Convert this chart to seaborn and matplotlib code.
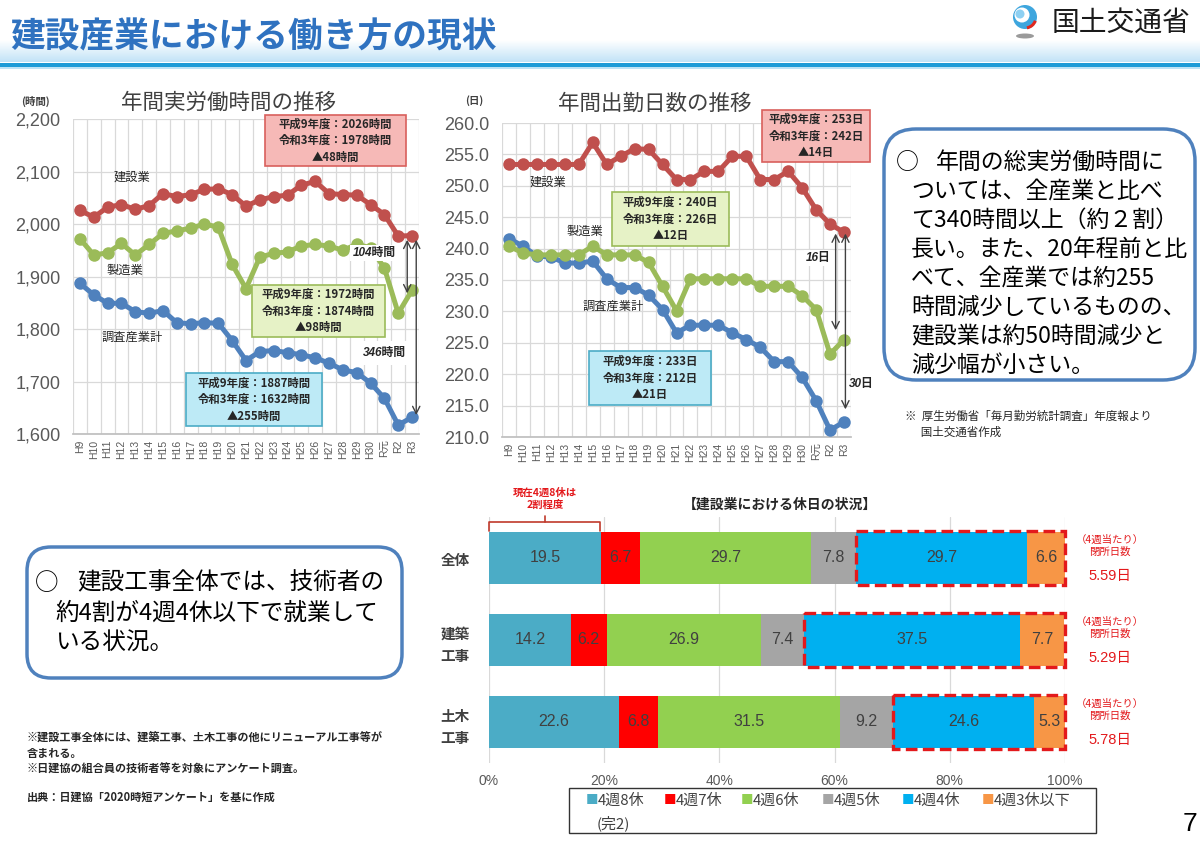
import numpy as np
import pandas as pd
import matplotlib
matplotlib.use("Agg")
import matplotlib.pyplot as plt
import seaborn as sns
from matplotlib.patches import Rectangle, FancyBboxPatch, Circle, Ellipse, Arc
from matplotlib.ticker import FixedLocator

# ---------------- data ----------------
years = ["H9", "H10", "H11", "H12", "H13", "H14", "H15", "H16", "H17", "H18", "H19", "H20",
         "H21", "H22", "H23", "H24", "H25", "H26", "H27", "H28", "H29", "H30", "R元", "R2", "R3"]

hours_construction = [2026, 2013, 2032, 2037, 2028, 2035, 2058, 2052, 2056, 2066, 2067, 2056, 2034,
                      2046, 2052, 2055, 2074, 2081, 2058, 2056, 2055, 2037, 2018, 1977, 1978]
hours_manufacturing = [1972, 1941, 1945, 1963, 1941, 1961, 1982, 1987, 1992, 2000, 1994, 1923, 1877,
                       1937, 1944, 1947, 1958, 1961, 1958, 1950, 1961, 1955, 1916, 1830, 1874]
hours_all = [1887, 1865, 1849, 1849, 1833, 1830, 1835, 1812, 1810, 1812, 1811, 1778, 1740,
             1757, 1759, 1755, 1751, 1745, 1735, 1722, 1717, 1697, 1668, 1617, 1632]

days_construction = [253.4, 253.4, 253.4, 253.4, 253.4, 253.4, 256.9, 253.4, 254.7, 255.9, 255.8, 253.4, 251.0,
                     251.0, 252.3, 252.3, 254.7, 254.7, 251.0, 251.0, 252.3, 249.7, 246.2, 243.9, 242.6]
days_manufacturing = [240.4, 239.3, 239.0, 239.0, 239.0, 239.0, 240.4, 239.0, 239.0, 239.0, 237.8, 234.0, 230.1,
                      235.2, 235.2, 235.2, 235.2, 235.2, 234.0, 234.0, 234.0, 232.5, 230.3, 223.2, 225.5]
days_all = [241.6, 240.4, 238.8, 238.7, 237.7, 237.7, 238.0, 235.2, 233.8, 233.8, 232.6, 230.3, 226.6,
            227.8, 227.8, 227.8, 226.6, 225.5, 224.3, 222.0, 222.0, 219.5, 215.8, 211.1, 212.4]

rows = ["全体", "建築\n工事", "土木\n工事"]
holiday_cats = ["4週8休", "4週7休", "4週6休", "4週5休", "4週4休", "4週3休以下"]
share_8 = [19.5, 14.2, 22.6]
share_7 = [6.7, 6.2, 6.8]
share_6 = [29.7, 26.9, 31.5]
share_5 = [7.8, 7.4, 9.2]
share_4 = [29.7, 37.5, 24.6]
share_3 = [6.6, 7.7, 5.3]
closing_days = ["5.59日", "5.29日", "5.78日"]
pct_ticks = [0, 20, 40, 60, 80, 100]

# ---------------- style ----------------
sns.set_theme(style="white")
JP = ["Noto Sans CJK JP", "DejaVu Sans"]
NUM = ["Liberation Sans", "Noto Sans CJK JP", "DejaVu Sans"]
plt.rcParams["font.family"] = JP

RED, GREEN, BLUE = "#C0504D", "#9BBB59", "#4F81BD"
GRID = "#D9D9D9"
TICK = "#595959"
DARK = "#262626"

W, H = 1200, 841
fig = plt.figure(figsize=(12, 8.41), dpi=100)
fig.patch.set_facecolor("white")


def box(x0, y0, x1, y1):
    return [x0 / W, 1 - y1 / H, (x1 - x0) / W, (y1 - y0) / H]


def line_panel(rect, series, ylim, ystep, fmt):
    ax = fig.add_axes(box(*rect))
    x = np.arange(len(years))
    for vals, col in series:
        sns.lineplot(x=x, y=vals, ax=ax, color=col, linewidth=3.6, marker="o",
                     markersize=9, markeredgewidth=0, legend=False, zorder=3)
    ax.set_xlim(-0.5, len(years) - 0.5)
    ax.set_ylim(*ylim)
    yt = np.arange(ylim[0], ylim[1] + ystep / 2, ystep)
    ax.set_yticks(yt, labels=[fmt(v) for v in yt], fontsize=13, color=TICK, family=NUM)
    ax.set_xticks(x, labels=years, rotation=90, fontsize=7.5, color=TICK, family=NUM)
    ax.xaxis.set_minor_locator(FixedLocator(np.arange(-0.5, len(years), 1)))
    ax.grid(False)
    ax.grid(True, axis="y", which="major", color=GRID, lw=0.9)
    ax.grid(True, axis="x", which="minor", color=GRID, lw=0.9)
    ax.tick_params(axis="both", which="both", length=0)
    ax.tick_params(axis="y", pad=9)
    ax.tick_params(axis="x", pad=4)
    for s in ["top", "right", "left"]:
        ax.spines[s].set_visible(False)
    ax.spines["bottom"].set_color("#BFBFBF")
    ax.set_xlabel("")
    ax.set_ylabel("")
    ax.set_axisbelow(True)
    ax.set_facecolor("white")
    return ax


# left chart: hours
axL = line_panel((73, 119, 419, 434),
                 [(hours_all, BLUE), (hours_manufacturing, GREEN), (hours_construction, RED)],
                 (1600, 2200), 100, lambda v: f"{v:,.0f}")
arw = dict(arrowstyle="<->", color="#404040", lw=1.0, mutation_scale=13, shrinkA=0, shrinkB=0)
axL.annotate("", xy=(23.65, hours_manufacturing[-1] - 6), xytext=(23.65, hours_construction[-1] - 8),
             arrowprops=arw, annotation_clip=False)
axL.annotate("", xy=(24.3, hours_all[-1] + 4), xytext=(24.3, hours_construction[-1] - 8),
             arrowprops=arw, annotation_clip=False)

# middle chart: days
axM = line_panel((502, 123, 851, 437),
                 [(days_all, BLUE), (days_manufacturing, GREEN), (days_construction, RED)],
                 (210, 260), 5, lambda v: f"{v:.1f}")
axM.annotate("", xy=(23.4, days_manufacturing[-1] + 1.5), xytext=(23.4, days_construction[-1] - 0.2),
             arrowprops=arw, annotation_clip=False)
axM.annotate("", xy=(24.1, days_all[-1] + 2.0), xytext=(24.1, days_construction[-1] - 0.2),
             arrowprops=arw, annotation_clip=False)

# bottom: stacked horizontal bars
axB = fig.add_axes(box(489, 517, 1065, 763))
stack = np.array([share_8, share_7, share_6, share_5, share_4, share_3])
cum = np.cumsum(stack, axis=0)
bar_colors = ["#4BACC6", "#FF0000", "#92D050", "#A5A5A5", "#00B0F0", "#F79646"]
for i in range(len(holiday_cats) - 1, -1, -1):
    sns.barplot(x=cum[i], y=rows, orient="h", color=bar_colors[i], saturation=1,
                width=0.63, ax=axB, edgecolor="none", linewidth=0, zorder=2)
for i in range(len(holiday_cats)):
    for j in range(len(rows)):
        v = stack[i, j]
        axB.text(cum[i, j] - v / 2, j, f"{v:.1f}", ha="center", va="center",
                 fontsize=11.5, color="#404040", family=NUM, zorder=4)
for j in range(len(rows)):
    x0 = cum[3, j]
    axB.add_patch(Rectangle((x0, j - 0.335), 100 - x0, 0.67, fill=False, ec="#E3191C",
                            lw=2.4, ls=(0, (3.5, 1.6)), zorder=5, clip_on=False))
axB.set_xlim(0, 100)
axB.set_xticks(pct_ticks, labels=[f"{t}%" for t in pct_ticks], fontsize=10, color=TICK, family=NUM)
axB.set_yticks(range(len(rows)), labels=rows, fontsize=10.5, color="#404040", weight="bold",
               linespacing=1.5)
axB.tick_params(axis="both", length=0)
axB.tick_params(axis="x", pad=8)
axB.tick_params(axis="y", pad=14)
axB.grid(False)
axB.grid(True, axis="x", color=GRID, lw=0.9)
axB.set_axisbelow(True)
for s in axB.spines.values():
    s.set_visible(False)
axB.set_xlabel("")
axB.set_ylabel("")

# ---------------- overlay (texts, boxes) ----------------
ov = fig.add_axes([0, 0, 1, 1], zorder=10)
grad = np.linspace(0, 1, 40).reshape(-1, 1)
top_c = np.array([1.0, 1.0, 1.0])
bot_c = np.array([0.76, 0.89, 0.97])
img = top_c + (bot_c - top_c) * grad[..., None]
img = np.repeat(img, 2, axis=1)
ov.imshow(img, extent=(0, W, 62, 40), aspect="auto", zorder=0)
ov.set_xlim(0, W)
ov.set_ylim(H, 0)
ov.axis("off")
ov.patch.set_visible(False)

ov.add_patch(Rectangle((0, 62.5), W, 4, fc="#1E9BD7", ec="none"))
ov.add_patch(Rectangle((0, 67), W, 1.5, fc="#BFE3F5", ec="none"))
ov.text(10, 37, "建設産業における働き方の現状", fontsize=25, weight="bold", color="#2F72C0",
        va="center", ha="left")

# logo
ov.add_patch(Circle((1025, 17), 12, fc="#3EA6DE", ec="none"))
ov.add_patch(Circle((1022, 15), 7.5, fc="white", ec="none"))
ov.add_patch(Circle((1020, 14), 4.5, fc="#8ED0F2", ec="none"))
ov.add_patch(Arc((1025, 17), 22, 22, theta1=20, theta2=80, color="#E0281E", lw=2.2))
ov.add_patch(Ellipse((1025, 36), 18, 5, fc="#9A9A9A", ec="none"))
ov.text(1052, 23, "国土交通省", fontsize=20, color="#1A1A1A", va="center", ha="left")

# chart titles
ov.text(228, 103, "年間実労働時間の推移", fontsize=15.5, color="#404040", ha="center", va="center")
ov.text(35, 101, "(時間)", fontsize=7.5, color="#404040", ha="center", va="center", weight="bold")
ov.text(655, 104, "年間出勤日数の推移", fontsize=15.5, color="#404040", ha="center", va="center")
ov.text(474, 101, "(日)", fontsize=7.5, color="#404040", ha="center", va="center", weight="bold")


def callout(x0, y0, x1, y1, fc, ec, text):
    ov.add_patch(Rectangle((x0, y0), x1 - x0, y1 - y0, fc=fc, ec=ec, lw=1.2))
    ov.text((x0 + x1) / 2, (y0 + y1) / 2, text, ha="center", va="center", fontsize=8.2,
            linespacing=1.35, color=DARK, weight="bold")


PINK, PINK_E = "#F6B9B7", "#D9605C"
LGREEN, LGREEN_E = "#E6F2C6", "#9BBB59"
LBLUE, LBLUE_E = "#BDEAF6", "#4BACC6"

callout(265, 115, 406, 166, PINK, PINK_E, "平成9年度：2026時間\n令和3年度：1978時間\n▲48時間")
callout(252, 285, 385, 337, LGREEN, LGREEN_E, "平成9年度：1972時間\n令和3年度：1874時間\n▲98時間")
callout(186, 373, 322, 426, LBLUE, LBLUE_E, "平成9年度：1887時間\n令和3年度：1632時間\n▲255時間")
callout(762, 110, 870, 162, PINK, PINK_E, "平成9年度：253日\n令和3年度：242日\n▲14日")
callout(612, 192, 729, 246, LGREEN, LGREEN_E, "平成9年度：240日\n令和3年度：226日\n▲12日")
callout(589, 351, 711, 405, LBLUE, LBLUE_E, "平成9年度：233日\n令和3年度：212日\n▲21日")

for (x, y, s) in [(132, 177, "建設業"), (125, 270, "製造業"), (132, 337, "調査産業計"),
                  (548, 182, "建設業"), (585, 231, "製造業"), (613, 306, "調査産業計")]:
    ov.text(x, y, s, fontsize=8.8, color=DARK, ha="center", va="center")

ital = dict(fontsize=8.5, color=DARK, ha="center", va="center", family=NUM, style="italic",
            weight="bold")
ov.text(374, 253, "104時間", bbox=dict(fc="white", ec="none", pad=1.5), **ital)
ov.text(384, 353, "346時間", bbox=dict(fc="white", ec="none", pad=4.5), **ital)
ov.text(818, 258, "16日", bbox=dict(fc="white", ec="none", pad=1.5), **ital)
ov.text(861, 384, "30日", **ital)

# right text box
ov.add_patch(FancyBboxPatch((884, 129), 311, 251, boxstyle="round,pad=0,rounding_size=32",
                            fc="white", ec="#4F81BD", lw=2.5))
ov.text(896, 162, "○", fontsize=16.5, color="black", ha="left", va="center")
right_lines = ["年間の総実労働時間に", "ついては、全産業と比べ", "て340時間以上（約２割）",
               "長い。また、20年程前と比", "べて、全産業では約255", "時間減少しているものの、",
               "建設業は約50時間減少と", "減少幅が小さい。"]
for k, s in enumerate(right_lines):
    ov.text(936 if k == 0 else 911, 162 + 29 * k, s, fontsize=16.5, color="black",
            ha="left", va="center")
ov.text(905, 424, "※  厚生労働省「毎月勤労統計調査」年度報より\n      国土交通省作成", fontsize=8.3,
        color=DARK, ha="left", va="center", linespacing=1.3)

# left-bottom text box
ov.add_patch(FancyBboxPatch((27, 547), 375, 131, boxstyle="round,pad=0,rounding_size=24",
                            fc="white", ec="#4F81BD", lw=2.5))
ov.text(35, 583, "○", fontsize=17, color="black", ha="left", va="center")
ov.text(77, 583, "建設工事全体では、技術者の", fontsize=17, color="black", ha="left", va="center")
ov.text(55, 613, "約4割が4週4休以下で就業して", fontsize=17, color="black", ha="left", va="center")
ov.text(55, 643, "いる状況。", fontsize=17, color="black", ha="left", va="center")

ov.text(27, 754, "※建設工事全体には、建築工事、土木工事の他にリニューアル工事等が\n含まれる。\n"
        "※日建協の組合員の技術者等を対象にアンケート調査。", fontsize=8, color=DARK,
        ha="left", va="center", linespacing=1.25, weight="bold")
ov.text(27, 797, "出典：日建協「2020時短アンケート」を基に作成", fontsize=8, color=DARK,
        ha="left", va="center", weight="bold")

# bar chart annotations
ov.text(780, 505, "【建設業における休日の状況】", fontsize=10, weight="bold", color=DARK,
        ha="center", va="center")
ov.text(545, 499, "現在4週8休は\n2割程度", fontsize=7.5, weight="bold", color="#E3191C",
        ha="center", va="center", linespacing=1.2)
ov.plot([489, 489, 600, 600], [531, 522, 522, 531], color="#C0392B", lw=1.2)
ov.plot([545, 545], [522, 516], color="#C0392B", lw=1.2)
for j, yc in enumerate([558, 640, 722]):
    ov.text(1110, yc - 12, "（4週当たり）\n閉所日数", fontsize=7.5, color="#E3191C",
            ha="center", va="center", linespacing=1.3)
    ov.text(1110, yc + 18, closing_days[j], fontsize=10.5, color="#E3191C", ha="center",
            va="center", family=NUM + JP)

# legend
ov.add_patch(Rectangle((569, 788), 527, 45, fc="white", ec="#333333", lw=1.0))
leg_x = [586, 664, 741, 822, 902, 982]
for c, lab, x in zip(bar_colors, holiday_cats, leg_x):
    ov.text(x, 801, "■", fontsize=9, color=c, ha="left", va="center")
    ov.text(x + 12, 801, lab, fontsize=10.8, color="#404040", ha="left", va="center")
ov.text(597, 823, "(完2)", fontsize=10.8, color="#404040", ha="left", va="center")

ov.text(1190, 824, "7", fontsize=19, color="black", ha="center", va="center", family=NUM)

fig.savefig("out.png", dpi=100)
